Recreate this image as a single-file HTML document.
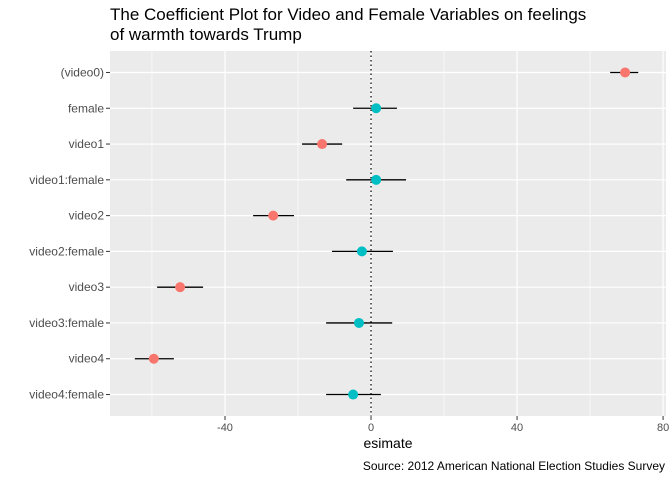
<!DOCTYPE html>
<html><head><meta charset="utf-8"><style>
body{margin:0;background:#fff;font-family:"Liberation Sans",sans-serif;}
</style></head><body>
<svg width="672" height="480" xmlns="http://www.w3.org/2000/svg" font-family="Liberation Sans, sans-serif">
<text x="110" y="20" font-size="17" fill="#000">The Coefficient Plot for Video and Female Variables on feelings</text>
<text x="110" y="40" font-size="17" fill="#000">of warmth towards Trump</text>
<rect x="110" y="51" width="556" height="365" fill="#EBEBEB"/>
<g id="grid"></g>
<g id="marks"></g>
<g id="axes"></g>
<text x="388" y="448" font-size="14" text-anchor="middle">esimate</text>
<text x="665" y="470" font-size="12" text-anchor="end">Source: 2012 American National Election Studies Survey</text>
</svg>
<script>
const terms = ["(video0)","female","video1","video1:female","video2","video2:female","video3","video3:female","video4","video4:female"];
const estimates = [69.6,1.4,-13.4,1.4,-26.8,-2.5,-52.3,-3.3,-59.5,-4.9];
const lowers = [65.5,-4.9,-18.9,-6.8,-32.3,-10.7,-58.6,-12.3,-64.7,-12.3];
const uppers = [73.2,7.1,-7.9,9.6,-21.1,6.0,-46.0,5.8,-54.0,2.7];
const groups = ["video","female","video","female","video","female","video","female","video","female"];
const xTicks = [-40,0,40,80];
const xMinor = [-60,-20,20,60];
const NS="http://www.w3.org/2000/svg";
const L=110,R=666,T=51,B=416,xmin=-71.5,xmax=80.8;
const xs=v=>L+(v-xmin)/(xmax-xmin)*(R-L);
const n=terms.length;
const ys=i=>T+(i+0.6)/(n+0.2)*(B-T);
function mk(tag,attrs,parent){const e=document.createElementNS(NS,tag);for(const k in attrs)e.setAttribute(k,attrs[k]);document.getElementById(parent).appendChild(e);return e;}
xMinor.forEach(v=>{const e=mk('line',{x1:xs(v),x2:xs(v),y1:T,y2:B,stroke:'#fff','stroke-width':0.6},'grid');

});
xTicks.forEach(v=>{const e=mk('line',{x1:xs(v),x2:xs(v),y1:T,y2:B,stroke:'#fff','stroke-width':1.2},'grid');


const t=mk('line',{x1:xs(v),x2:xs(v),y1:B,y2:B+4,stroke:'#333','stroke-width':1},'axes');


const l=mk('text',{x:xs(v),y:B+15,'font-size':11,fill:'#4d4d4d','text-anchor':'middle'},'axes');l.textContent=v;

});
terms.forEach((t,i)=>{const y=ys(i);
const g=mk('line',{x1:L,x2:R,y1:y,y2:y,stroke:'#fff','stroke-width':1.2},'grid');


const tk=mk('line',{x1:L-4,x2:L,y1:y,y2:y,stroke:'#333','stroke-width':1},'axes');


const lb=mk('text',{x:L-6,y:y+4,'font-size':12,fill:'#4d4d4d','text-anchor':'end'},'axes');lb.textContent=t;

});
const z=mk('line',{x1:xs(0),x2:xs(0),y1:T,y2:B,stroke:'#000','stroke-width':1.2,'stroke-dasharray':'1.5,3'},'marks');


terms.forEach((t,i)=>{const y=ys(i);
const ci=mk('line',{x1:xs(lowers[i]),x2:xs(uppers[i]),y1:y,y2:y,stroke:'#000','stroke-width':1.3},'marks');


const p=mk('circle',{cx:xs(estimates[i]),cy:y,r:5,fill:groups[i]==='video'?'#F8766D':'#00BFC4'},'marks');

});
</script>
</body></html>
